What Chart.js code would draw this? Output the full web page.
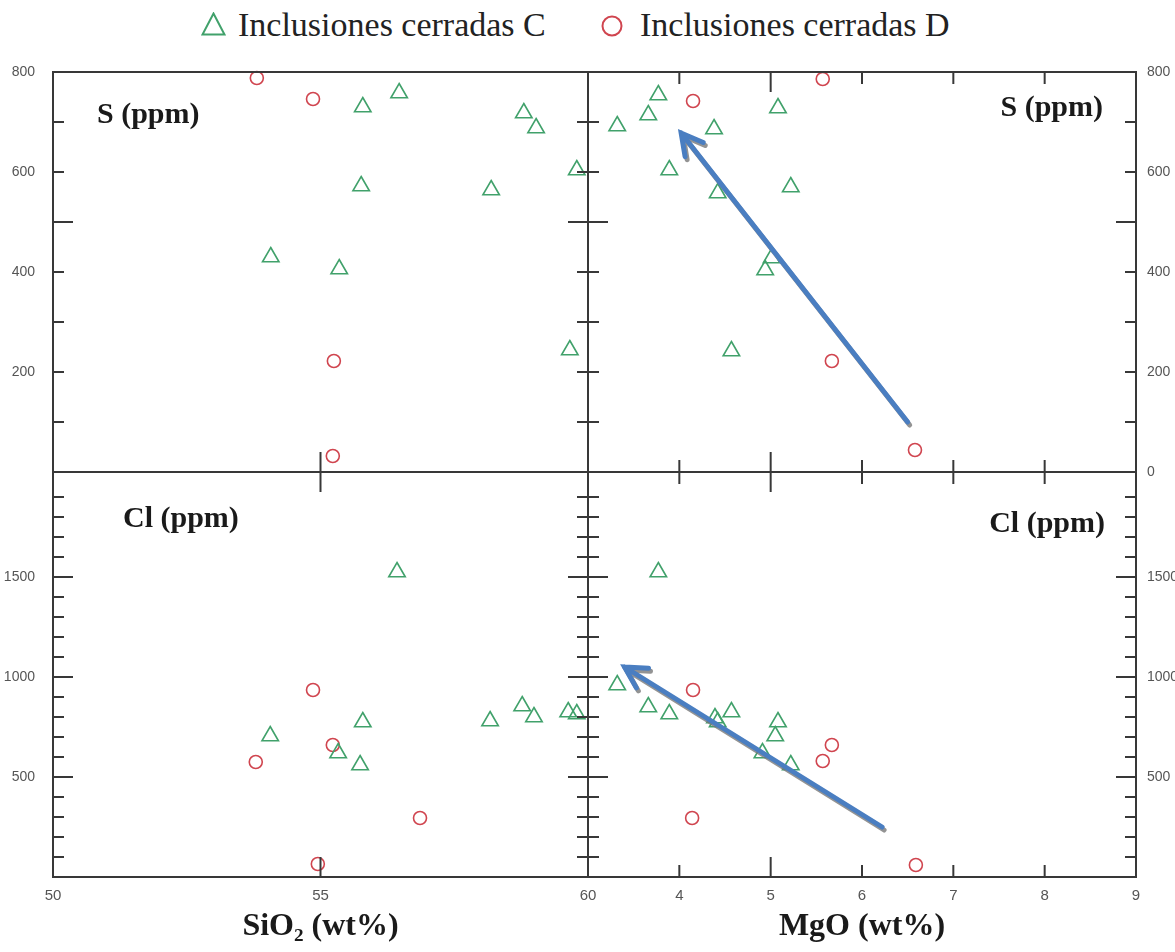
<!DOCTYPE html>
<html>
<head>
<meta charset="utf-8">
<script src="https://cdn.jsdelivr.net/npm/chart.js@4.4.0/dist/chart.umd.min.js"></script>
<style>
  body { margin: 0; background: #fff; width: 1175px; height: 952px; overflow: hidden; position: relative; }
  canvas { position: absolute; left: 0; top: 0; }
  .leg { position: absolute; top: 5px; font: 34px/40px "Liberation Serif", serif; color: #222; white-space: nowrap; }
  .sym { position: absolute; }
</style>
</head>
<body>
<svg class="sym" style="left:201px;top:12px" width="25" height="24"><polygon points="12.5,1.5 23.5,22.5 1.5,22.5" fill="none" stroke="#41a16b" stroke-width="2"/></svg>
<div class="leg" style="left:238px">Inclusiones cerradas C</div>
<svg class="sym" style="left:600px;top:14px" width="24" height="24"><circle cx="12" cy="12" r="9.5" fill="none" stroke="#d0454f" stroke-width="2"/></svg>
<div class="leg" style="left:640px">Inclusiones cerradas D</div>

<canvas id="tl" width="1175" height="952"></canvas>
<canvas id="tr" width="1175" height="952"></canvas>
<canvas id="bl" width="1175" height="952"></canvas>
<canvas id="br" width="1175" height="952"></canvas>

<script>
// S (ppm) vs SiO2
const sio2C_S = [54.07, 55.35, 55.76, 55.79, 56.47, 58.19, 58.80, 59.03, 59.66, 59.79];
const sC_si   = [430, 406, 572, 730, 758, 564, 718, 688, 244, 604];
const sio2D_S = [53.81, 54.86, 55.25, 55.23];
const sD_si   = [788, 746, 222, 32];

// S (ppm) vs MgO
const mgoC_S = [3.32, 3.66, 3.77, 3.89, 4.38, 4.42, 4.57, 4.94, 5.01, 5.08, 5.22];
const sC_mg  = [692, 714, 754, 604, 686, 558, 242, 404, 428, 728, 570];
const mgoD_S = [4.15, 5.57, 5.67, 6.58];
const sD_mg  = [742, 786, 222, 44];

// Cl (ppm) vs SiO2
const sio2C_Cl = [54.06, 55.33, 55.74, 55.79, 56.43, 58.17, 58.77, 58.99, 59.63, 59.79];
const clC_si   = [705, 620, 560, 775, 1525, 780, 855, 800, 825, 815];
const sio2D_Cl = [53.79, 54.86, 54.95, 55.23, 56.86];
const clD_si   = [575, 935, 65, 660, 295];

// Cl (ppm) vs MgO
const mgoC_Cl = [3.32, 3.66, 3.77, 3.89, 4.39, 4.42, 4.57, 4.91, 5.05, 5.08, 5.22];
const clC_mg  = [960, 850, 1525, 815, 795, 775, 825, 620, 705, 775, 560];
const mgoD_Cl = [4.14, 4.15, 5.57, 5.67, 6.59];
const clD_mg  = [295, 935, 580, 660, 60];

// trend arrows (MgO, ppm): [start, tip]
const arrowS  = [[6.50, 100], [4.02, 678]];
const arrowCl = [[6.22, 250], [3.40, 1050]];

// tick labels and tick marks
const sLabelsLeft  = [200, 400, 600, 800];
const sLabelsRight = [0, 200, 400, 600, 800];
const clLabels     = [500, 1000, 1500];
const sio2Labels   = [50, 55, 60];
const mgoLabels    = [4, 5, 6, 7, 8, 9];
const sMarks    = [100, 200, 300, 400, 500, 600, 700];
const clMarks   = [100, 200, 300, 400, 500, 600, 700, 800, 900, 1000, 1100, 1200, 1300, 1400, 1500, 1600, 1700, 1800, 1900];
const sio2Marks = [55];
const mgoMarks  = [4, 5, 6, 7, 8];

const GREEN = '#41a16b', RED = '#d0454f';
const tickFont = { family: '"Liberation Sans Narrow", "Liberation Sans", sans-serif', size: 14 };

const pts = (xs, ys) => xs.map((v, i) => ({ x: v, y: ys[i] }));

const deco = {
  id: 'deco',
  afterDraw(chart, args, o) {
    const { ctx, chartArea: a, scales: { x, y } } = chart;
    ctx.save();
    ctx.strokeStyle = '#383838';
    ctx.lineWidth = 2;
    const line = (x1, y1, x2, y2) => { ctx.beginPath(); ctx.moveTo(x1, y1); ctx.lineTo(x2, y2); ctx.stroke(); };
    o.yMarks.forEach(v => {
      const p = y.getPixelForValue(v), len = o.yLong.includes(v) ? 20 : 11;
      line(a.left, p, a.left + len, p);
      line(a.right - len, p, a.right, p);
    });
    o.xMarks.forEach(v => {
      const p = x.getPixelForValue(v), len = o.xLong.includes(v) ? 20 : 12;
      if (o.xSides.includes('top')) line(p, a.top, p, a.top + len);
      if (o.xSides.includes('bottom')) line(p, a.bottom - len, p, a.bottom);
    });
    ctx.strokeRect(a.left, a.top, a.right - a.left, a.bottom - a.top);

    if (o.arrow) {
      const [s, t] = o.arrow;
      const x1 = x.getPixelForValue(s[0]), y1 = y.getPixelForValue(s[1]);
      const x2 = x.getPixelForValue(t[0]), y2 = y.getPixelForValue(t[1]);
      const ang = Math.atan2(y2 - y1, x2 - x1), hl = 24;
      ctx.strokeStyle = '#4a7ec1';
      ctx.lineWidth = 5;
      ctx.lineCap = 'round';
      ctx.shadowColor = 'rgba(120,120,120,0.8)';
      ctx.shadowOffsetX = 2;
      ctx.shadowOffsetY = 3;
      ctx.beginPath();
      ctx.moveTo(x1, y1); ctx.lineTo(x2, y2);
      ctx.moveTo(x2 - hl * Math.cos(ang - 0.5), y2 - hl * Math.sin(ang - 0.5));
      ctx.lineTo(x2, y2);
      ctx.lineTo(x2 - hl * Math.cos(ang + 0.5), y2 - hl * Math.sin(ang + 0.5));
      ctx.stroke();
      ctx.shadowColor = 'transparent';
    }

    ctx.fillStyle = '#1a1a1a';
    ctx.font = 'bold 30px "Liberation Serif", serif';
    ctx.textAlign = o.label.align;
    ctx.textBaseline = 'alphabetic';
    const lx = o.label.align === 'left' ? a.left + o.label.dx : a.right - o.label.dx;
    ctx.fillText(o.label.text, lx, a.top + o.label.dy);
    ctx.restore();
  }
};

function panel(id, p) {
  new Chart(document.getElementById(id), {
    type: 'scatter',
    data: {
      datasets: [
        { label: 'Inclusiones cerradas C', data: p.c, pointStyle: 'triangle', pointRadius: 9.5,
          borderColor: GREEN, backgroundColor: 'rgba(0,0,0,0)', borderWidth: 1.6, clip: false },
        { label: 'Inclusiones cerradas D', data: p.d, pointStyle: 'circle', pointRadius: 6.5,
          borderColor: RED, backgroundColor: 'rgba(0,0,0,0)', borderWidth: 1.6, clip: false }
      ]
    },
    options: {
      responsive: false,
      animation: false,
      events: [],
      layout: { padding: p.pad },
      plugins: {
        legend: { display: false },
        tooltip: { enabled: false },
        deco: p.deco
      },
      scales: {
        x: {
          type: 'linear', position: 'bottom', min: p.xMin, max: p.xMax,
          grid: { display: false, drawTicks: false }, border: { display: false },
          afterBuildTicks: s => { s.ticks = p.xLabels.map(v => ({ value: v })); },
          ticks: { display: p.xShow, color: '#555', padding: 10, maxRotation: 0, autoSkip: false,
                   font: { ...tickFont, size: 15 }, callback: v => String(v) },
          title: p.xTitle ? { display: true, text: p.xTitle, color: '#1a1a1a', padding: { top: 0, bottom: 6 },
                              font: { family: '"Liberation Serif", serif', size: 32, weight: 'bold' } } : { display: false },
          afterFit: s => { s.height = p.xH; }
        },
        y: {
          type: 'linear', position: p.yPos, min: p.yMin, max: p.yMax,
          grid: { display: false, drawTicks: false }, border: { display: false },
          afterBuildTicks: s => { s.ticks = p.yLabels.map(v => ({ value: v })); },
          ticks: { color: '#555', padding: p.yPos === 'left' ? 18 : 11, autoSkip: false, font: tickFont,
                   callback: v => String(v) },
          afterFit: s => { s.width = p.yW; }
        }
      }
    },
    plugins: [deco]
  });
}

panel('tl', {
  c: pts(sio2C_S, sC_si), d: pts(sio2D_S, sD_si),
  pad: { left: 0, top: 72, right: 587, bottom: 0 },
  xMin: 50, xMax: 60, xLabels: sio2Labels, xShow: false, xH: 480,
  yMin: 0, yMax: 800, yLabels: sLabelsLeft, yPos: 'left', yW: 53,
  deco: { yMarks: sMarks, yLong: [500], xMarks: sio2Marks, xLong: [55], xSides: ['bottom'],
          label: { text: 'S (ppm)', align: 'left', dx: 44, dy: 51 } }
});

panel('tr', {
  c: pts(mgoC_S, sC_mg), d: pts(mgoD_S, sD_mg),
  pad: { left: 588, top: 72, right: 0, bottom: 0 },
  xMin: 3, xMax: 9, xLabels: mgoLabels, xShow: false, xH: 480,
  yMin: 0, yMax: 800, yLabels: sLabelsRight, yPos: 'right', yW: 39,
  deco: { yMarks: sMarks, yLong: [500], xMarks: mgoMarks, xLong: [5], xSides: ['top', 'bottom'],
          arrow: arrowS,
          label: { text: 'S (ppm)', align: 'right', dx: 33, dy: 44 } }
});

panel('bl', {
  c: pts(sio2C_Cl, clC_si), d: pts(sio2D_Cl, clD_si),
  pad: { left: 0, top: 472, right: 587, bottom: 0 },
  xMin: 50, xMax: 60, xLabels: sio2Labels, xShow: true, xH: 75, xTitle: 'SiO₂ (wt%)',
  yMin: 0, yMax: 2025, yLabels: clLabels, yPos: 'left', yW: 53,
  deco: { yMarks: clMarks, yLong: [500, 1000, 1500], xMarks: sio2Marks, xLong: [55], xSides: ['top', 'bottom'],
          label: { text: 'Cl (ppm)', align: 'left', dx: 70, dy: 55 } }
});

panel('br', {
  c: pts(mgoC_Cl, clC_mg), d: pts(mgoD_Cl, clD_mg),
  pad: { left: 588, top: 472, right: 0, bottom: 0 },
  xMin: 3, xMax: 9, xLabels: mgoLabels, xShow: true, xH: 75, xTitle: 'MgO (wt%)',
  yMin: 0, yMax: 2025, yLabels: clLabels, yPos: 'right', yW: 39,
  deco: { yMarks: clMarks, yLong: [500, 1000, 1500], xMarks: mgoMarks, xLong: [5], xSides: ['top', 'bottom'],
          arrow: arrowCl,
          label: { text: 'Cl (ppm)', align: 'right', dx: 31, dy: 60 } }
});
</script>
</body>
</html>
